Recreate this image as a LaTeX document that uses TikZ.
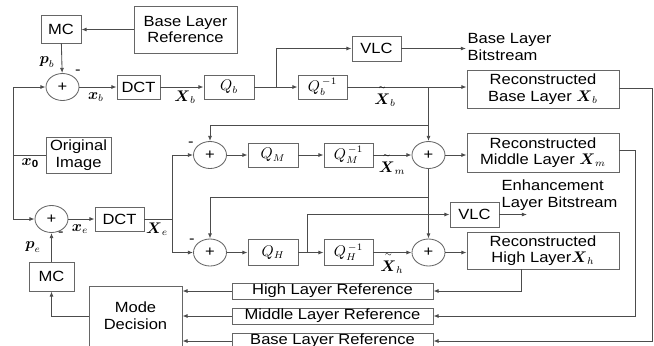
\documentclass[tikz,border=0pt]{standalone}
\usepackage{amsmath}
\usepackage{fontspec}
\setmainfont{Liberation Sans}[FakeStretch=1.12]
\usetikzlibrary{arrows.meta, shapes.geometric}
\newcommand{\tildX}[1]{\overset{\raisebox{1pt}{$\scriptscriptstyle\sim$}}{\boldsymbol{X}}_{#1}}

\begin{document}
\begin{tikzpicture}[
  x=0.025cm, y=-0.025cm,
  >={Latex[length=1.3mm, width=1mm]},
  every node/.style={font=\fontsize{10.5}{11.8}\selectfont},
  wh/.style 2 args={minimum width=#1*0.025cm, minimum height=#2*0.025cm},
  blk/.style={draw=black!60, line width=0.6pt, inner sep=0pt, align=center},
  sumnode/.style={ellipse, draw=black!60, line width=0.6pt, inner sep=0pt, wh={33}{27}},
  lbl/.style={inner sep=1pt},
  ln/.style={line width=0.6pt, black!70},
  arr/.style={->, line width=0.6pt, black!70},
]
  \useasboundingbox (0,0) rectangle (654,345);
  \clip (0,0) rectangle (654,345);
  % base layer row
  \node[blk, wh={40}{28}]  (mcb)    at (61,29)      {MC};
  \node[blk, wh={103}{47}] (blr)    at (185.5,29.5) {Base Layer\\Reference};
  \node[sumnode]           (sumb)   at (62.5,87)    {+};
  \node[blk, wh={43}{24}]  (dctb)   at (138.5,87)   {DCT};
  \node[blk, wh={50}{24}]  (qb)     at (229,87)     {$Q_b$};
  \node[blk, wh={49}{24}]  (qbi)    at (322.5,87)   {$Q_b^{\,-1}$};
  \node[blk, wh={49}{25}]  (vlcb)   at (376.5,48.5) {VLC};
  \node[lbl, anchor=west, align=left] (blbs) at (466,47) {Base Layer\\Bitstream};
  \node[blk, wh={152}{38}] (reconb) at (543,89)     {Reconstructed\\Base Layer $\boldsymbol{X}_b$};
  \node[blk, wh={65}{36}]  (orig)   at (78.5,155)   {Original\\Image};
  % middle layer row
  \node[sumnode]           (summ)   at (210,155)    {+};
  \node[blk, wh={50}{24}]  (qm)     at (273,155)    {$Q_M$};
  \node[blk, wh={49}{24}]  (qmi)    at (348.5,155)  {$Q_M^{\,-1}$};
  \node[sumnode]           (summr)  at (428.5,155)  {+};
  \node[blk, wh={152}{39}] (reconm) at (543,152.5)  {Reconstructed\\Middle Layer $\boldsymbol{X}_m$};
  % enhancement input
  \node[sumnode]           (sume)   at (51.5,219)   {+};
  \node[blk, wh={49}{24}]  (dcte)   at (119.5,219)  {DCT};
  \node[blk, wh={49}{25}]  (vlce)   at (474.5,214.5) {VLC};
  \node[lbl, anchor=west, align=left] (elbs) at (500,195) {Enhancement\\Layer Bitstream};
  % high layer row
  \node[sumnode]           (sumh)   at (210,252.5)  {+};
  \node[blk, wh={50}{26}]  (qh)     at (273,252.5)  {$Q_H$};
  \node[blk, wh={49}{26}]  (qhi)    at (348.5,252.5) {$Q_H^{\,-1}$};
  \node[sumnode]           (sumhr)  at (428.5,252.5) {+};
  \node[blk, wh={152}{37}] (reconh) at (543,250.5)  {Reconstructed\\High Layer$\boldsymbol{X}_h$};
  % references and mode decision
  \node[blk, wh={45}{29}]  (mce)    at (51.5,276.5) {MC};
  \node[blk, wh={93}{60}]  (mode)   at (135.5,316)  {Mode\\Decision};
  \node[blk, wh={201}{16}] (highref) at (332.5,291) {High Layer Reference};
  \node[blk, wh={201}{16}] (midref)  at (332.5,316) {Middle Layer Reference};
  \node[blk, wh={201}{16}] (baseref) at (332.5,341) {Base Layer Reference};

  \coordinate (jl) at (13,155);
  \coordinate (jq) at (276,87);
  \coordinate (jx) at (428.5,87);
  \coordinate (jm) at (428.5,125);
  \coordinate (je) at (172,219);
  \coordinate (jr) at (428.5,197);
  \coordinate (jh) at (307,252.5);
  \coordinate (bsout) at (466,48.5);
  \coordinate (esout) at (527,214.5);
  \coordinate (hdrop) at (521,291);
  \coordinate (mright) at (635,150);
  \coordinate (bright) at (652,88);

  % connectors
  \draw[arr] (blr.west) -- (blr.west -| mcb.east);
  \draw[arr] (mcb) -- (sumb);
  \draw[ln] (orig) -- (jl);
  \draw[arr] (jl) |- (sumb);
  \draw[arr] (jl) |- (sume);
  \foreach \a/\b in {sumb/dctb,dctb/qb,qb/qbi,summ/qm,qm/qmi,qmi/summr,sume/dcte,sumh/qh,qh/qhi,qhi/sumhr,mce/sume,summr/sumhr,vlcb/bsout,vlce/esout}
    \draw[arr] (\a) -- (\b);
  \draw[arr] (jq) |- (vlcb);
  \draw[arr] (qbi.east) -- (qbi.east -| reconb.west);
  \draw[arr] (jx) -- (summr);
  \draw[arr] (jm) -| (summ);
  \draw[ln] (dcte) -- (je);
  \draw[arr] (je) |- (summ);
  \draw[arr] (je) |- (sumh);
  \draw[arr] (summr) -- (summr -| reconm.west);
  \draw[arr] (jr) -| (sumh);
  \draw[arr] (sumhr) -- (sumhr -| reconh.west);
  \draw[arr] (jh) |- (vlce);
  \draw[arr] (reconh.south -| hdrop) -- (hdrop) -- (highref);
  \draw[arr] (reconm.east |- mright) -- (mright) |- (midref);
  \draw[arr] (reconb.east |- bright) -- (bright) |- (baseref);
  \foreach \r in {highref,midref,baseref}
    \draw[arr] (\r.west) -- (\r.west -| mode.east);
  \draw[arr] (mode.west) -| (mce);

  % signal labels
  \node[lbl] (pb)  at (47,62)    {$\boldsymbol{p}_b$};
  \node[lbl] (mnb) at (78,72)    {-};
  \node[lbl] (xb)  at (96,97)    {$\boldsymbol{x}_b$};
  \node[lbl] (Xb)  at (185,97)   {$\boldsymbol{X}_b$};
  \node[lbl] (Xtb) at (385,96)   {$\tildX{b}$};
  \node[lbl] (x0)  at (30,163)   {$\boldsymbol{x}_{\mathbf{0}}$};
  \node[lbl] (mnm) at (191,144)  {-};
  \node[lbl] (Xtm) at (392,164)  {$\tildX{m}$};
  \node[lbl] (xe)  at (80,229)   {$\boldsymbol{x}_e$};
  \node[lbl] (Xe)  at (157,229)  {$\boldsymbol{X}_e$};
  \node[lbl] (mne) at (61,234)   {-};
  \node[lbl] (pe)  at (33,247)   {$\boldsymbol{p}_e$};
  \node[lbl] (mnh) at (192,241)  {-};
  \node[lbl] (Xth) at (392,263)  {$\tildX{h}$};
\end{tikzpicture}
\end{document}
